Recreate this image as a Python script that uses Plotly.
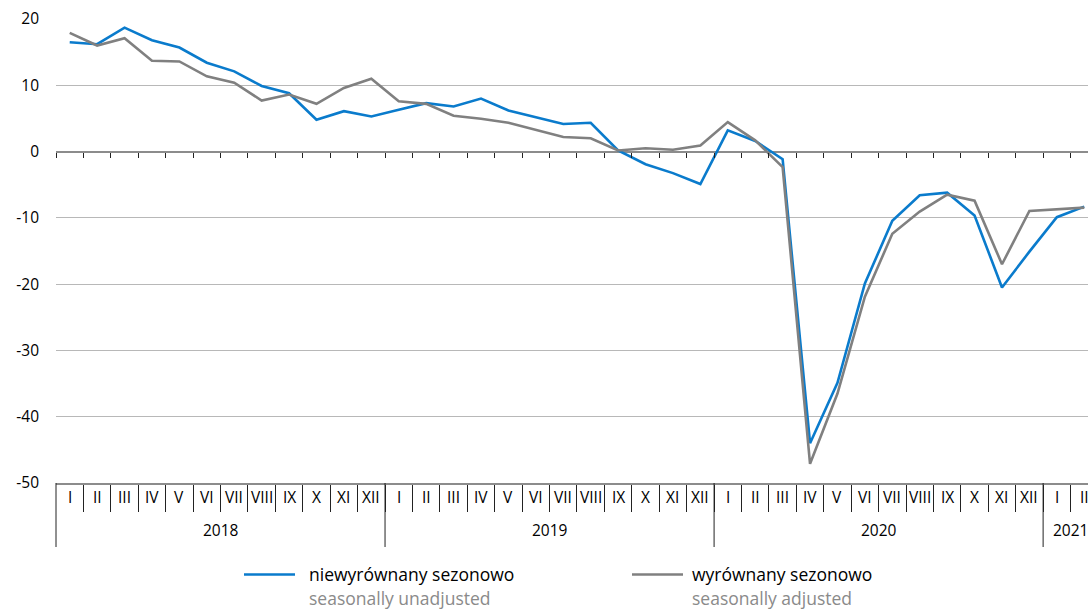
import plotly.graph_objects as go

# ---------------- data ----------------
month_names = ["I", "II", "III", "IV", "V", "VI", "VII", "VIII", "IX", "X", "XI", "XII"]
years = ["2018", "2019", "2020", "2021"]
months_per_year = [12, 12, 12, 2]

unadjusted = [16.5, 16.2, 18.7, 16.8, 15.7, 13.4, 12.1, 9.9, 8.8, 4.8, 6.1, 5.3,
              6.3, 7.3, 6.8, 8.0, 6.2, 5.2, 4.15, 4.35, 0.17, -1.9, -3.25, -4.9,
              3.2, 1.6, -1.15, -44.0, -34.9, -19.9, -10.45, -6.6, -6.2, -9.65, -20.5, -15.1,
              -9.9, -8.3]
adjusted = [17.9, 16.0, 17.1, 13.7, 13.6, 11.35, 10.4, 7.7, 8.6, 7.2, 9.6, 11.0,
            7.6, 7.2, 5.4, 4.95, 4.35, 3.3, 2.2, 2.0, 0.17, 0.5, 0.27, 0.9,
            4.45, 1.7, -2.35, -47.1, -36.5, -21.9, -12.4, -9.05, -6.5, -7.4, -17.0, -8.95,
            -8.65, -8.45]

series_names = ["niewyrównany sezonowo", "wyrównany sezonowo"]
series_names_en = ["seasonally unadjusted", "seasonally adjusted"]
y_ticks = [20, 10, 0, -10, -20, -30, -40, -50]
y_tick_labels = ["20", "10", "0", "-10", "-20", "-30", "-40", "-50"]

# ---------------- derived ----------------
month_labels = []
year_of_point = []
for yr, n in zip(years, months_per_year):
    month_labels += month_names[:n]
    year_of_point += [yr] * n
x_idx = list(range(len(month_labels)))
hover = [f"{m} {y}" for m, y in zip(month_labels, year_of_point)]

BLUE = "#0a7bcc"
GRAY = "#808080"
FONT = "Open Sans"

W, H = 1088, 609
ML, MR, MT, MB = 56, 0, 19, 126
plot_w = W - ML - MR
plot_h = H - MT - MB
cat_px = 27.42
xmin = -0.5
xmax = xmin + plot_w / cat_px
ymin, ymax = -50, 20


def xp(v):
    return (v - xmin) / (xmax - xmin)


def yp(px):  # pixel row -> paper y
    return (H - MB - px) / plot_h


boundaries = [i - 0.5 for i in range(len(month_labels) + 1)]

fig = go.Figure()
fig.add_trace(go.Scatter(
    x=x_idx, y=unadjusted, mode="lines", name=series_names[0],
    line=dict(color=BLUE, width=2.6), text=hover,
    hovertemplate="%{text}: %{y}<extra></extra>", showlegend=False,
    xaxis="x", yaxis="y"))
fig.add_trace(go.Scatter(
    x=x_idx, y=adjusted, mode="lines", name=series_names[1],
    line=dict(color=GRAY, width=2.6), text=hover,
    hovertemplate="%{text}: %{y}<extra></extra>", showlegend=False,
    xaxis="x2", yaxis="y"))

shapes = []
annotations = []

# year dividers
start = 0
for yr, n in zip(years, months_per_year):
    b = start - 0.5
    shapes.append(dict(type="line", xref="paper", yref="paper",
                       x0=xp(b), x1=xp(b), y0=0, y1=yp(547),
                       line=dict(color="#222222", width=1)))
    annotations.append(dict(x=start + (n - 1) / 2, y=yp(530), xref="x", yref="paper",
                            text=yr, showarrow=False, xanchor="center", yanchor="middle",
                            font=dict(family=FONT, size=15.5, color="#000")))
    start += n

# month labels
for i, m in enumerate(month_labels):
    annotations.append(dict(x=i, y=yp(497), xref="x", yref="paper", text=m,
                            showarrow=False, xanchor="center", yanchor="middle",
                            font=dict(family=FONT, size=15.5, color="#000")))

# legend (drawn manually)
leg = [(244, 295, 307, BLUE, 0), (632, 683, 690, GRAY, 1)]
for x0, x1, tx, col, k in leg:
    shapes.append(dict(type="line", xref="paper", yref="paper",
                       x0=(x0 - ML) / plot_w, x1=(x1 - ML) / plot_w,
                       y0=yp(574.5), y1=yp(574.5), line=dict(color=col, width=2.6)))
    annotations.append(dict(x=(tx - ML) / plot_w, y=yp(574), xref="paper", yref="paper",
                            text=series_names[k], showarrow=False, xanchor="left",
                            yanchor="middle", font=dict(family=FONT, size=17.5, color="#000")))
    annotations.append(dict(x=(tx - ML) / plot_w, y=yp(597.5), xref="paper", yref="paper",
                            text=series_names_en[k], showarrow=False, xanchor="left",
                            yanchor="middle", font=dict(family=FONT, size=17.5, color="#8a8a8a")))

fig.update_layout(
    width=W, height=H,
    margin=dict(l=ML, r=MR, t=MT, b=MB, pad=0),
    paper_bgcolor="white", plot_bgcolor="white",
    font=dict(family=FONT, size=15.5, color="#000"),
    xaxis=dict(range=[xmin, xmax], showgrid=False, zeroline=False,
               tickmode="array", tickvals=boundaries[1:], showticklabels=False,
               ticks="outside", ticklen=27, tickwidth=1, tickcolor="#222222",
               showline=True, linecolor="#8c8c8c", linewidth=1.5, fixedrange=True),
    xaxis2=dict(range=[xmin, xmax], overlaying="x", anchor="free",
                position=(0 - ymin) / (ymax - ymin), side="bottom",
                showgrid=False, zeroline=False, showline=False,
                tickmode="array", tickvals=boundaries, showticklabels=False,
                ticks="outside", ticklen=5, tickwidth=1, tickcolor="#222222"),
    yaxis=dict(range=[ymin, ymax], tickmode="array", tickvals=y_ticks,
               ticktext=y_tick_labels,
               showgrid=True, gridcolor="#b8b8b8", gridwidth=1,
               zeroline=True, zerolinecolor="#8c8c8c", zerolinewidth=1.5,
               ticks="", ticklabelstandoff=16, showline=False,
               tickfont=dict(family=FONT, size=15.5, color="#000")),
    shapes=shapes, annotations=annotations,
    showlegend=False,
)

fig.write_html("out.html",
               config={"displayModeBar": False},
               post_script="document.body.style.margin='0';document.body.style.padding='0';")
